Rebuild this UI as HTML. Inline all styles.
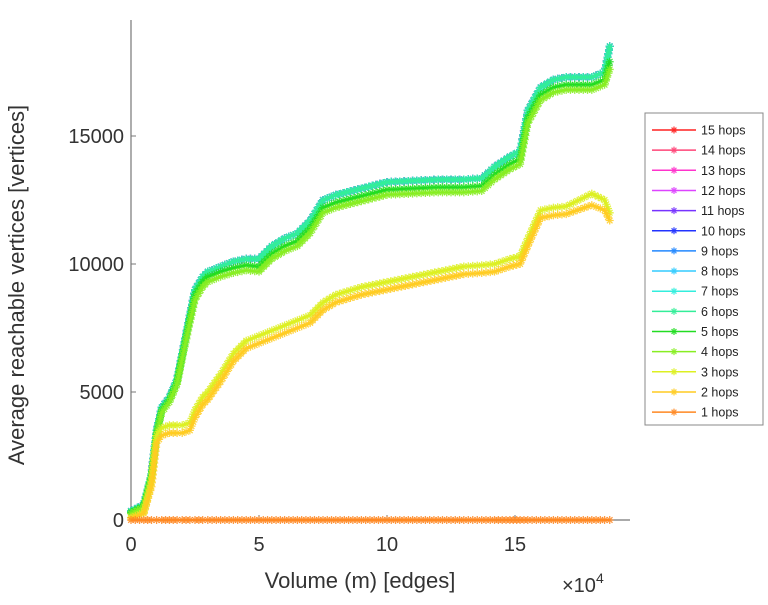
<!DOCTYPE html>
<html><head><meta charset="utf-8"><style>
body{margin:0;background:#fff;width:768px;height:600px;overflow:hidden}
svg text{font-family:"Liberation Sans",sans-serif}
</style></head><body>
<svg id="chart" width="768" height="600"></svg>
<script>
const xs    = [0,0.5,0.8,1.0,1.2,1.5,1.8,2.0,2.3,2.5,2.8,3.0,3.5,4.0,4.5,5.0,5.5,6.0,6.5,7.0,7.5,8.0,9.0,10,11,12,13,13.7,14.2,14.8,15.2,15.5,16,16.5,17,18,18.5,18.7];
const high  = [350,600,1800,3500,4400,4800,5500,6500,8000,9000,9500,9700,9900,10100,10200,10200,10700,11000,11200,11700,12500,12700,12950,13200,13250,13300,13300,13350,13800,14200,14400,16000,16900,17200,17300,17300,17500,18500];
const hop5  = [300,550,1750,3400,4300,4700,5400,6400,7900,8800,9300,9500,9700,9850,9950,9900,10400,10700,10900,11400,12200,12400,12650,12900,12950,13000,13000,13050,13500,13900,14100,15700,16600,16900,17000,17000,17200,17900];
const hop4  = [250,500,1700,3300,4200,4600,5300,6300,7700,8600,9100,9300,9500,9650,9750,9700,10200,10500,10700,11200,12000,12200,12450,12700,12750,12800,12800,12850,13300,13700,13900,15500,16400,16700,16800,16800,17000,17600];
const hop3  = [100,300,1500,3300,3600,3700,3700,3700,3800,4300,4800,5000,5700,6500,7000,7200,7400,7600,7800,8000,8500,8800,9100,9300,9500,9700,9900,9950,10000,10200,10300,11000,12100,12200,12250,12750,12500,12000];
const hop2  = [80,250,1300,3000,3300,3400,3400,3400,3500,4000,4500,4700,5400,6200,6700,6900,7100,7300,7500,7700,8200,8500,8800,9000,9200,9400,9600,9650,9700,9900,10000,10700,11800,11900,11950,12300,12100,11700];
const hop1  = [0,0,0,0,0,0,0,0,0,0,0,0,0,0,0,0,0,0,0,0,0,0,0,0,0,0,0,0,0,0,0,0,0,0,0,0,0,0];
const seriesNames = ["15 hops","14 hops","13 hops","12 hops","11 hops","10 hops","9 hops","8 hops","7 hops","6 hops","5 hops","4 hops","3 hops","2 hops","1 hops"];
const seriesData  = [high,high,high,high,high,high,high,high,high,high,hop5,hop4,hop3,hop2,hop1];
const colors = ["#ff2020","#ff4477","#ff33cc","#dd44ff","#7733ff","#2233ff","#2288ff","#33ccff","#33eedd","#33ee99","#22dd22","#88ee22","#ddf022","#ffcc22","#ff8822"];
const xTicks = [0,5,10,15];
const yTicks = [0,5000,10000,15000];

const NS="http://www.w3.org/2000/svg";
const svg=document.getElementById('chart');
const X0=131,Y0=520;
const xs_=v=>X0+v*25.6;
const ys_=v=>Y0-v*0.0256;
function mk(t,a,p){const e=document.createElementNS(NS,t);for(const k in a)e.setAttribute(k,a[k]);(p||svg).appendChild(e);return e;}

const ax=mk('path',{d:`M${X0} 20 V${Y0} H630`,stroke:'#777',fill:'none','stroke-width':1.2});


xTicks.forEach(t=>{
  mk('line',{x1:xs_(t),x2:xs_(t),y1:Y0,y2:Y0-5,stroke:'#777'});
  const tx=mk('text',{x:xs_(t),y:Y0+31,'text-anchor':'middle','font-size':20,fill:'#333'});
  tx.textContent=t;
  
  
});
yTicks.forEach(t=>{
  mk('line',{x1:X0,x2:X0+5,y1:ys_(t),y2:ys_(t),stroke:'#777'});
  const tx=mk('text',{x:X0-7,y:ys_(t)+7,'text-anchor':'end','font-size':20,fill:'#333'});
  tx.textContent=t;
  
  
});
const xl=mk('text',{x:360,y:588,'text-anchor':'middle','font-size':22,fill:'#333'});
xl.textContent='Volume (m) [edges]';


const ex=mk('text',{x:562,y:592,'font-size':20,fill:'#333'});
ex.innerHTML='×10<tspan font-size="14" dy="-9">4</tspan>';


const yl=mk('text',{x:0,y:0,'text-anchor':'middle','font-size':22,fill:'#333',transform:'translate(24,285) rotate(-90)'});
yl.textContent='Average reachable vertices [vertices]';



function star(g,x,y,c,s){
  mk('path',{d:`M${x-s} ${y}H${x+s}M${x} ${y-s}V${y+s}M${x-s*.7} ${y-s*.7}L${x+s*.7} ${y+s*.7}M${x-s*.7} ${y+s*.7}L${x+s*.7} ${y-s*.7}`,stroke:c,'stroke-width':1.3,opacity:0.85},g);
}
seriesData.forEach((arr,i)=>{
  const g=mk('g',{});
  
  
  const pts=xs.map((x,j)=>[xs_(x),ys_(arr[j])]);
  mk('polyline',{points:pts.map(p=>p.join(',')).join(' '),fill:'none',stroke:colors[i],'stroke-width':2},g);
  for(let j=0;j<pts.length-1;j++){
    const [ax1,ay1]=pts[j],[bx,by]=pts[j+1];
    const L=Math.hypot(bx-ax1,by-ay1),n=Math.max(1,Math.round(L/4));
    for(let k=0;k<n;k++){const f=k/n;star(g,ax1+(bx-ax1)*f,ay1+(by-ay1)*f,colors[i],4);}
  }
  star(g,pts[pts.length-1][0],pts[pts.length-1][1],colors[i],4);
});

const lg=mk('g',{});


mk('rect',{x:645,y:113,width:118,height:312,fill:'#fff',stroke:'#888'},lg);
seriesNames.forEach((n,i)=>{
  const y=130+i*20.15;
  const e=mk('g',{},lg);
  
  
  mk('line',{x1:652,x2:696,y1:y,y2:y,stroke:colors[i],'stroke-width':1.5},e);
  star(e,674,y,colors[i],3.5);
  const t=mk('text',{x:701,y:y+4.5,'font-size':12.5,fill:'#222'},e);
  t.textContent=n;
});
</script>
</body></html>
